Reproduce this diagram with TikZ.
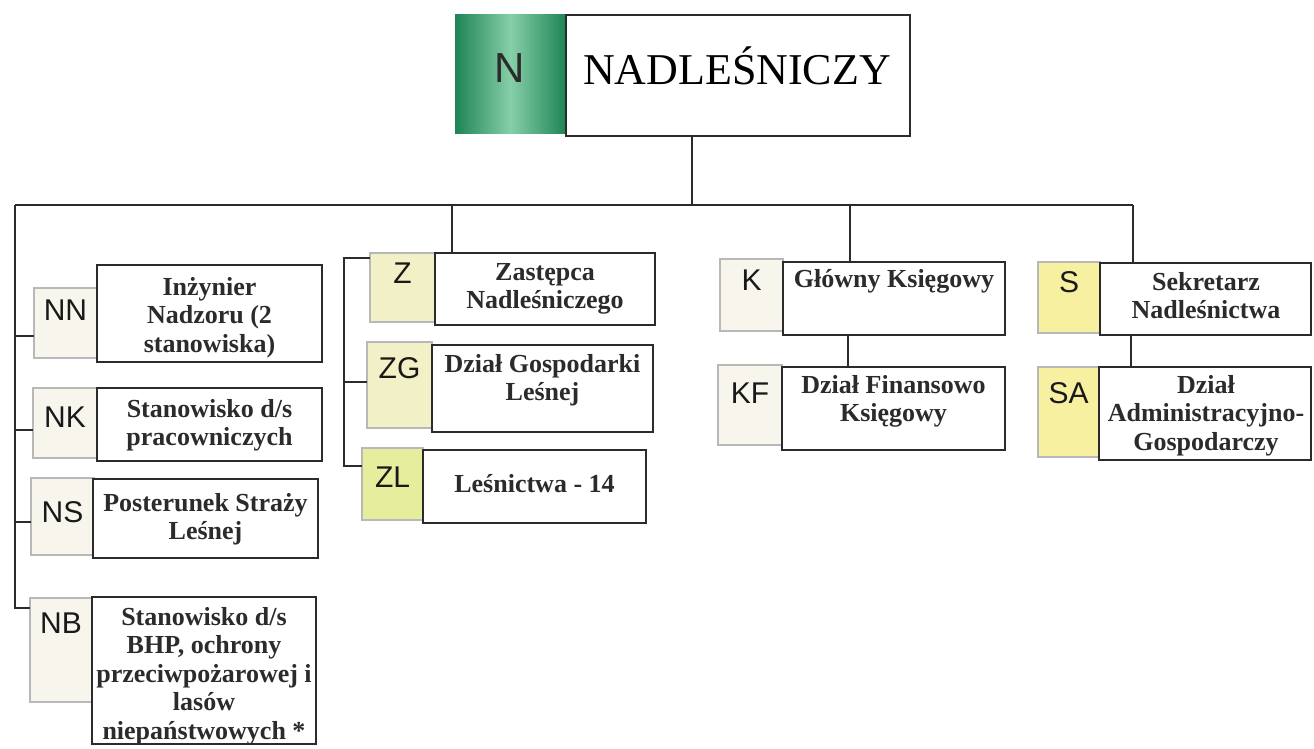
\documentclass[tikz,border=0pt]{standalone}
\usepackage{fontspec}
\setmainfont{Liberation Serif}
\newfontfamily\arialf{Liberation Sans}
\usetikzlibrary{calc}
\definecolor{ink}{HTML}{2B2B2B}
\definecolor{codeline}{HTML}{B8B8B8}
\definecolor{pale}{HTML}{F7F5EC}
\definecolor{cream}{HTML}{F2F0C6}
\definecolor{lime}{HTML}{E6EE9E}
\definecolor{yel}{HTML}{F6F0A0}
\definecolor{gdark}{HTML}{1E8455}
\definecolor{glight}{HTML}{86CFA8}
\newcommand\mkbox[6]{\pgfmathsetmacro\mybw{#5-#3}\pgfmathsetmacro\mybh{#6-#4}%
  \node[#2, minimum width=\mybw pt, minimum height=\mybh pt, anchor=north west] (#1) at (#3,#4) {};}
\newcommand\dtext[4]{\node[desc] (#1) at (#2,#3-22) {\rule{0pt}{22pt}#4};}
\tikzset{
  codebox/.style={draw=codeline, line width=1.2pt, outer sep=0pt, inner sep=0pt},
  txtbox/.style={draw=ink, fill=white, line width=1.8pt, outer sep=0pt, inner sep=0pt},
  conn/.style={draw=ink, line width=1.6pt},
  codelbl/.style={anchor=base, inner sep=0pt, font=\arialf\fontsize{30}{32}\selectfont, text=black!90},
  desc/.style={anchor=north, inner sep=0pt, align=center, font=\bfseries\fontsize{26}{28.5}\selectfont, text=ink}
}
\begin{document}
\begin{tikzpicture}[x=1pt,y=-1pt]
\useasboundingbox (0,0) rectangle (1314,748);
% top
\mkbox{Ng}{draw=none, left color=gdark, right color=gdark, middle color=glight, outer sep=0pt}{455}{14}{566}{133}
\mkbox{Nt}{txtbox}{566}{15}{910}{136}
\node[anchor=base, inner sep=0pt, font=\arialf\fontsize{42}{44}\selectfont, text=ink] (Nlbl) at (510,82) {N};
\node[anchor=base, inner sep=0pt, font=\fontsize{44}{50}\selectfont, text=black] (Ntxt) at (737,84) {NADLEŚNICZY};
% bus
\coordinate (hub) at (692,205);
\coordinate (busL) at (15,205);
\coordinate (busR) at (1133,205);
\draw[conn] (Nt.south -| hub) -- (hub);
\draw[conn] (busL) -- (busR);
% left group
\mkbox{NNc}{codebox, fill=pale}{34}{288}{97}{358}
\mkbox{NNt}{txtbox}{97}{265}{322}{362}
\mkbox{NKc}{codebox, fill=pale}{33}{388}{97}{458}
\mkbox{NKt}{txtbox}{97}{388}{322}{461}
\mkbox{NSc}{codebox, fill=pale}{31}{478}{94}{555}
\mkbox{NSt}{txtbox}{93}{479}{318}{558}
\mkbox{NBc}{codebox, fill=pale}{30}{598}{92}{702}
\mkbox{NBt}{txtbox}{92}{597}{316}{744}
\draw[conn] (busL) |- (NBc.west |- 0,608);
\draw[conn] (busL |- 0,336) -- (NNc.west |- 0,336);
\draw[conn] (busL |- 0,430) -- (NKc.west |- 0,430);
\draw[conn] (busL |- 0,522) -- (NSc.west |- 0,522);
\node[codelbl] (NNl) at (NNc.center |- 0,320) {NN};
\node[codelbl] (NKl) at (NKc.center |- 0,427) {NK};
\node[codelbl] (NSl) at (NSc.center |- 0,522) {NS};
\node[codelbl] (NBl) at (NBc.center |- 0,633) {NB};
\dtext{NNd}{209.5}{295}{Inżynier\\Nadzoru (2\\stanowiska)}
\dtext{NKd}{209.5}{417}{Stanowisko d/s\\pracowniczych}
\dtext{NSd}{205.5}{511}{Posterunek Straży\\Leśnej}
\dtext{NBd}{204}{625}{Stanowisko d/s\\BHP, ochrony\\przeciwpożarowej i\\lasów\\niepaństwowych *}
% Z group
\mkbox{Zc}{codebox, fill=cream}{370}{253}{435}{322}
\mkbox{Zt}{txtbox}{435}{253}{655}{325}
\mkbox{ZGc}{codebox, fill=cream}{367}{342}{432}{428}
\mkbox{ZGt}{txtbox}{432}{345}{653}{432}
\mkbox{ZLc}{codebox, fill=lime}{362}{448}{423}{520}
\mkbox{ZLt}{txtbox}{423}{450}{646}{523}
\draw[conn] (hub -| 452,0) -- (Zt.north -| 452,0);
\coordinate (zb) at (344,258);
\draw[conn] (Zc.west |- zb) -- (zb) -- (zb |- 0,466) -- (ZLc.west |- 0,466);
\draw[conn] (zb |- 0,382) -- (ZGc.west |- 0,382);
\node[codelbl] (Zl) at (Zc.center |- 0,283) {Z};
\node[codelbl] (ZGl) at (ZGc.center |- 0,378) {ZG};
\node[codelbl] (ZLl) at (ZLc.center |- 0,487) {ZL};
\dtext{Zd}{545}{280}{Zastępca\\Nadleśniczego}
\dtext{ZGd}{542.5}{372}{Dział Gospodarki\\Leśnej}
\dtext{ZLd}{534.5}{492}{Leśnictwa - 14}
% K group
\mkbox{Kc}{codebox, fill=pale}{720}{259}{783}{331}
\mkbox{Kt}{txtbox}{783}{262}{1005}{335}
\mkbox{KFc}{codebox, fill=pale}{718}{365}{782}{445}
\mkbox{KFt}{txtbox}{782}{367}{1005}{450}
\draw[conn] (hub -| 850,0) -- (Kt.north -| 850,0);
\draw[conn] (Kt.south -| 848,0) -- (KFt.north -| 848,0);
\node[codelbl] (Kl) at (Kc.center |- 0,290) {K};
\node[codelbl] (KFl) at (KFc.center |- 0,403) {KF};
\dtext{Kd}{894}{287}{Główny Księgowy}
\dtext{KFd}{893.5}{393}{Dział Finansowo\\Księgowy}
% S group
\mkbox{Sc}{codebox, fill=yel}{1038}{262}{1100}{333}
\mkbox{St}{txtbox}{1100}{263}{1311}{335}
\mkbox{SAc}{codebox, fill=yel}{1038}{367}{1099}{457}
\mkbox{SAt}{txtbox}{1099}{367}{1311}{460}
\draw[conn] (busR) -- (St.north -| busR);
\draw[conn] (St.south -| 1131,0) -- (SAt.north -| 1131,0);
\node[codelbl] (Sl) at (Sc.center |- 0,292) {S};
\node[codelbl] (SAl) at (SAc.center |- 0,403) {SA};
\dtext{Sd}{1206}{290}{Sekretarz\\Nadleśnictwa}
\dtext{SAd}{1206}{393}{Dział\\Administracyjno-\\Gospodarczy}
\end{tikzpicture}
\end{document}
